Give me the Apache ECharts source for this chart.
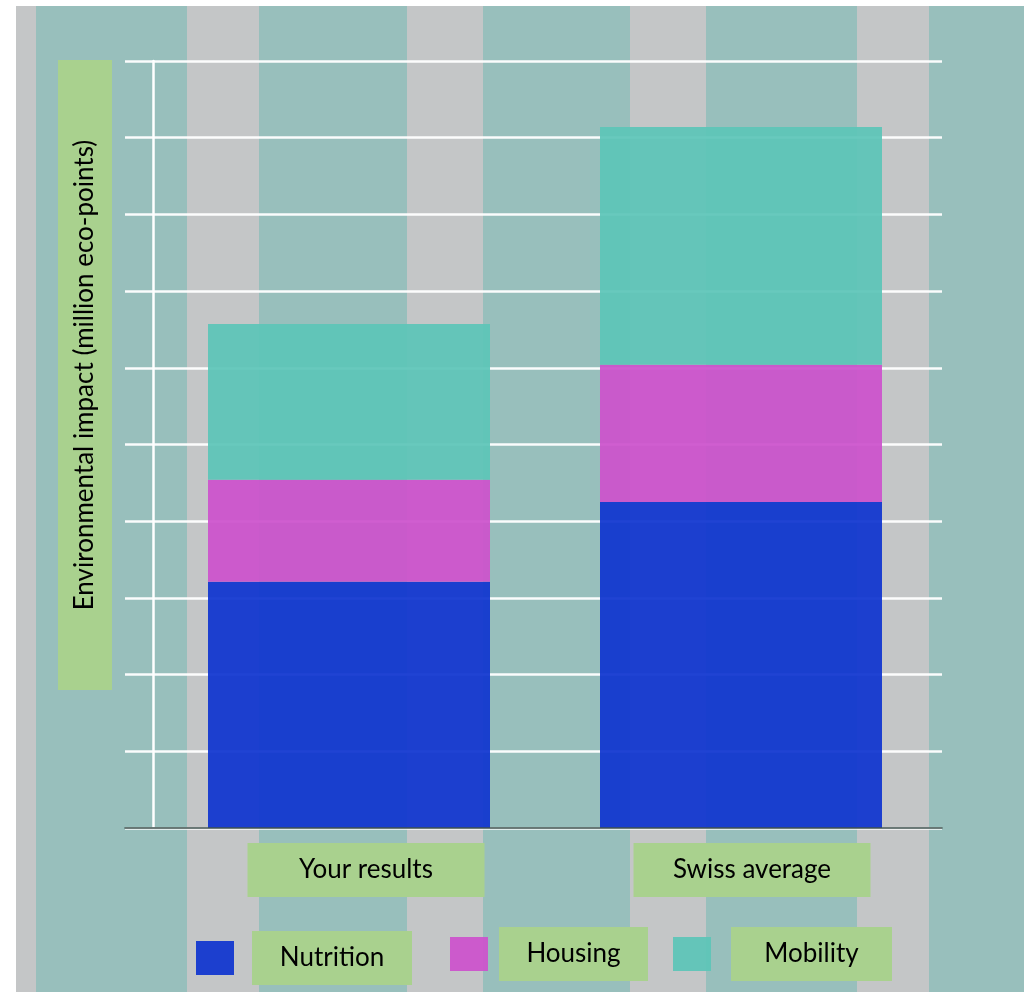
<!DOCTYPE html>
<html>
<head>
<meta charset="utf-8">
<script src="https://cdn.jsdelivr.net/npm/echarts@6/dist/echarts.min.js"></script>
<style>
html,body{margin:0;padding:0;}
body{
  width:1024px;height:992px;overflow:hidden;
  background:
    linear-gradient(to bottom, #ffffff 0px, #ffffff 6px, rgba(255,255,255,0) 6px),
    linear-gradient(to right,
      #ffffff 0px, #ffffff 16px,
      #c4c6c7 16px, #c4c6c7 36px,
      #98bfbc 36px, #98bfbc 187px,
      #c4c6c7 187px, #c4c6c7 259px,
      #98bfbc 259px, #98bfbc 407px,
      #c4c6c7 407px, #c4c6c7 483px,
      #98bfbc 483px, #98bfbc 630px,
      #c4c6c7 630px, #c4c6c7 706px,
      #98bfbc 706px, #98bfbc 857px,
      #c4c6c7 857px, #c4c6c7 929px,
      #98bfbc 929px, #98bfbc 1024px);
}
#chart{width:1024px;height:992px;}
</style>
</head>
<body>
<div id="chart"></div>
<script>
var categories = ['Your results', 'Swiss average'];
var seriesNames = ['Nutrition', 'Housing', 'Mobility'];
var nutrition = [3.21, 4.25];
var housing = [1.33, 1.79];
var mobility = [2.03, 3.10];
var yMin = 0, yMax = 10, yInterval = 1;
var yAxisTitle = 'Environmental impact (million eco-points)';

var GREEN = '#a9d18e';
var FONT = 'Lato';
var colors = ['#0f35d0', '#cc52cc', '#5cc5b8'];

var chart = echarts.init(document.getElementById('chart'), null, {renderer: 'canvas'});

function legendFor(i, left, top, gap, boxW) {
  return {
    data: [seriesNames[i]], left: left, top: top, padding: 0,
    itemWidth: 38, itemHeight: 34, icon: 'rect', selectedMode: false,
    formatter: function (n) { return '{g|}{b|' + n + '}'; },
    textStyle: {
      rich: {
        g: {width: gap},
        b: {width: boxW, height: 54, lineHeight: 54, align: 'center',
            backgroundColor: GREEN, fontFamily: FONT, fontSize: 26, color: '#000'}
      }
    }
  };
}

var option = {
  animation: false,
  backgroundColor: 'transparent',
  legend: [
    legendFor(0, 196, 931, 13, 160),
    legendFor(1, 450, 927, 6, 149),
    legendFor(2, 673, 927, 15, 161)
  ],
  grid: [
    {left: 153, top: 61, width: 784, height: 767, outerBoundsMode: 'none'},
    {left: 125, top: 61, width: 817, height: 767, outerBoundsMode: 'none'},
    {left: 173, top: 61, width: 772, height: 767, outerBoundsMode: 'none'},
    {left: 125, top: 60, width: 10, height: 630, outerBoundsMode: 'none'}
  ],
  xAxis: [
    {gridIndex: 0, type: 'category', data: categories, show: true,
     axisLine: {show: false}, axisTick: {show: false}, axisLabel: {show: false}, splitLine: {show: false}},
    {gridIndex: 1, type: 'category', data: categories, z: 3,
     axisLine: {show: true, lineStyle: {color: '#3e504d', width: 1.5}},
     axisTick: {show: false}, axisLabel: {show: false}, splitLine: {show: false}},
    {gridIndex: 2, type: 'category', data: categories,
     axisLine: {show: false}, axisTick: {show: false}, splitLine: {show: false},
     axisLabel: {show: true, interval: 0, margin: 15,
       formatter: function (v) { return '{b|' + v + '}'; },
       rich: {b: {width: 237, height: 54, lineHeight: 54, align: 'center',
                  backgroundColor: GREEN, fontFamily: FONT, fontSize: 26, color: '#000'}}}},
    {gridIndex: 3, type: 'value', show: false}
  ],
  yAxis: [
    {gridIndex: 0, type: 'value', min: yMin, max: yMax, interval: yInterval,
     axisLine: {show: true, lineStyle: {color: '#ffffff', width: 2.5}},
     axisTick: {show: false}, axisLabel: {show: false}, splitLine: {show: false}},
    {gridIndex: 1, type: 'value', min: yMin, max: yMax, interval: yInterval,
     axisLine: {show: false}, axisTick: {show: false}, axisLabel: {show: false},
     splitLine: {show: true, lineStyle: {color: '#ffffff', width: 2.5, opacity: 0.95}}},
    {gridIndex: 2, type: 'value', min: yMin, max: yMax, show: false},
    {gridIndex: 3, type: 'value', min: 0, max: 1,
     axisLine: {show: false}, axisTick: {show: false}, axisLabel: {show: false}, splitLine: {show: false},
     name: '{b|' + yAxisTitle + '}', nameLocation: 'middle', nameRotate: 90, nameGap: 13,
     nameTextStyle: {rich: {b: {width: 630, height: 54, lineHeight: 54, align: 'center',
       backgroundColor: GREEN, fontFamily: FONT, fontSize: 26, color: '#000'}}}}
  ],
  series: [
    {name: seriesNames[0], type: 'bar', stack: 'total', xAxisIndex: 0, yAxisIndex: 0,
     barWidth: 282, data: nutrition, itemStyle: {color: colors[0], opacity: 0.93}},
    {name: seriesNames[1], type: 'bar', stack: 'total', xAxisIndex: 0, yAxisIndex: 0,
     barWidth: 282, data: housing, itemStyle: {color: colors[1], opacity: 0.93}},
    {name: seriesNames[2], type: 'bar', stack: 'total', xAxisIndex: 0, yAxisIndex: 0,
     barWidth: 282, data: mobility, itemStyle: {color: colors[2], opacity: 0.93}}
  ]
};
chart.setOption(option);
</script>
</body>
</html>
